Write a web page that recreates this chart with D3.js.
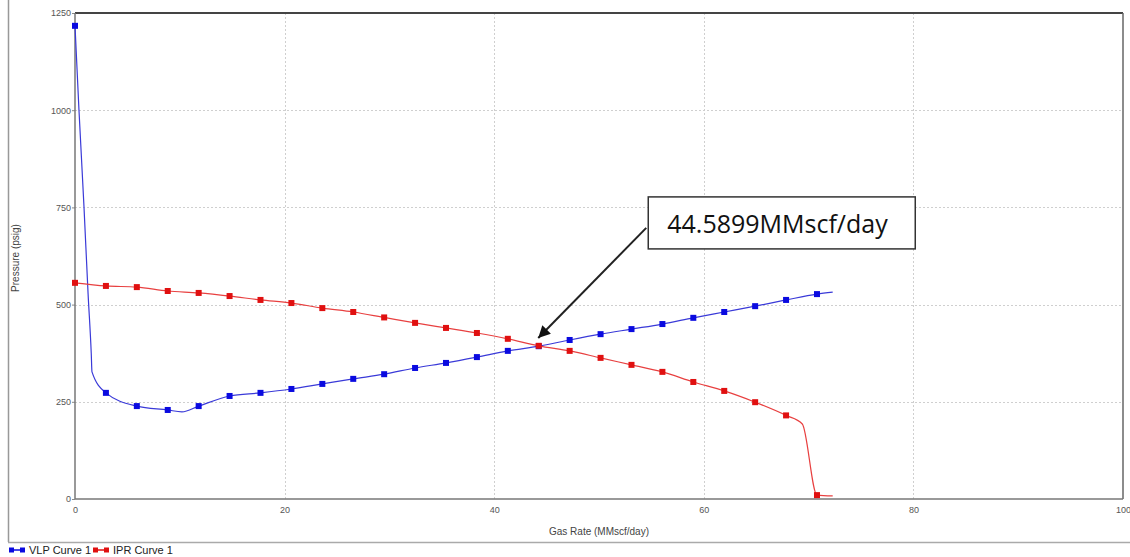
<!DOCTYPE html>
<meta charset="utf-8">
<script src="https://d3js.org/d3.v7.min.js"></script>
<style>
  body { margin: 0; background: #fff; }
  svg { font-family: 'Liberation Sans', Arial, sans-serif; }
  .tick text { fill: #555; font-size: 9px; }
  .grid line { stroke: #cfcfcf; stroke-dasharray: 2,2; }
</style>
<body>
<div id="chart"></div>
<script>

// marker points (every few samples)
var vlpRate     = [0, 2.95, 5.9, 8.85, 11.8, 14.75, 17.7, 20.65, 23.6, 26.55, 29.5, 32.45, 35.4, 38.35, 41.3, 44.25, 47.2, 50.15, 53.1, 56.05, 59.0, 61.95, 64.9, 67.85, 70.8];
var vlpPressure = [1217, 273, 239, 229, 239, 265, 273, 283, 296, 309, 321, 337, 350, 365, 381, 393, 409, 424, 437, 450, 466, 481, 496, 512, 527];
// extra line-only points
var vlpLineRate     = [0.38, 0.86, 1.25, 1.55, 1.62, 10.2, 72.3];
var vlpLinePressure = [1000, 750, 527, 375, 327, 224, 532];

var iprRate     = [0, 2.95, 5.9, 8.85, 11.8, 14.75, 17.7, 20.65, 23.6, 26.55, 29.5, 32.45, 35.4, 38.35, 41.3, 44.25, 47.2, 50.15, 53.1, 56.05, 59.0, 61.95, 64.9, 67.85, 70.8];
var iprPressure = [556, 548, 545, 535, 530, 522, 512, 504, 491, 481, 467, 453, 440, 427, 412, 394, 381, 363, 345, 327, 301, 278, 249, 215, 10];
var iprLineRate     = [69.4, 72.3];
var iprLinePressure = [193, 8];

var seriesNames = ["VLP Curve 1", "IPR Curve 1"];
var seriesColors = ["#0a0ae0", "#e01010"];
var lineColors = ["#3a3ad8", "#e84040"];

var xTicks = [0, 20, 40, 60, 80, 100];
var yTicks = [0, 250, 500, 750, 1000, 1250];

var opRate = 44.5899;
var opLabel = "44.5899MMscf/day";
var arrowTip = [44.2, 414];   // rate, pressure
var labelAt  = [54.7, 777];   // box top-left, rate, pressure

var W = 1130, H = 557;
var margin = {top: 13, right: 7, bottom: 58, left: 75},
    width = W - margin.left - margin.right,
    height = H - margin.top - margin.bottom;

var svg = d3.select("#chart").append("svg")
    .attr("width", W).attr("height", H);

// outer frame
svg.append("line").attr("x1", 8.5).attr("x2", 8.5).attr("y1", 0).attr("y2", 542)
  .attr("stroke", "#999").attr("stroke-width", 1.5);
svg.append("line").attr("x1", 8).attr("x2", W).attr("y1", 542.5).attr("y2", 542.5)
  .attr("stroke", "#aaa").attr("stroke-width", 1.5);

var g = svg.append("g")
    .attr("transform", "translate(" + margin.left + "," + margin.top + ")");

var x = d3.scaleLinear().domain([0, 100]).range([0, width]);
var y = d3.scaleLinear().domain([0, 1250]).range([height, 0]);

// grid
g.append("g").attr("class", "grid")
  .selectAll("line").data(xTicks.slice(1, -1)).enter().append("line")
    .attr("x1", function(d) { return Math.round(x(d)) + 0.5; })
    .attr("x2", function(d) { return Math.round(x(d)) + 0.5; })
    .attr("y1", 0).attr("y2", height);
g.append("g").attr("class", "grid")
  .selectAll("line").data(yTicks.slice(1, -1)).enter().append("line")
    .attr("y1", function(d) { return Math.round(y(d)) + 0.5; })
    .attr("y2", function(d) { return Math.round(y(d)) + 0.5; })
    .attr("x1", 0).attr("x2", width);

// axes
var xAxis = g.append("g")
  .attr("transform", "translate(0," + height + ")")
  .call(d3.axisBottom(x).tickValues(xTicks).tickFormat(d3.format("d")).tickSize(0).tickPadding(8));
var yAxis = g.append("g")
  .call(d3.axisLeft(y).tickValues(yTicks).tickFormat(d3.format("d")).tickSize(3).tickPadding(1));
xAxis.select(".domain").remove();
yAxis.select(".domain").remove();
yAxis.selectAll(".tick line").attr("stroke", "#888");

// plot frame
g.append("line").attr("x1", 0).attr("x2", width).attr("y1", 0).attr("y2", 0)
  .attr("stroke", "#444").attr("stroke-width", 2);
g.append("line").attr("x1", width).attr("x2", width).attr("y1", 0).attr("y2", height)
  .attr("stroke", "#666").attr("stroke-width", 1.5);
g.append("line").attr("x1", 0).attr("x2", width).attr("y1", height).attr("y2", height)
  .attr("stroke", "#777").attr("stroke-width", 1.5);
g.append("line").attr("x1", 0).attr("x2", 0).attr("y1", 0).attr("y2", height)
  .attr("stroke", "#777").attr("stroke-width", 1.5);

// axis titles
g.append("text")
  .attr("x", x(50)).attr("y", height + 36)
  .attr("text-anchor", "middle")
  .style("font-size", "10px").style("fill", "#444")
  .text("Gas Rate  (MMscf/day)");
svg.append("text")
  .attr("transform", "translate(19," + (margin.top + height / 2 + 2) + ") rotate(-90)")
  .attr("text-anchor", "middle")
  .style("font-size", "10px").style("fill", "#444")
  .text("Pressure  (psig)");

function zip(xs, ys) { return xs.map(function(v, i) { return [v, ys[i]]; }); }

var series = [
  {markers: zip(vlpRate, vlpPressure), extra: zip(vlpLineRate, vlpLinePressure)},
  {markers: zip(iprRate, iprPressure), extra: zip(iprLineRate, iprLinePressure)}
];

var line = d3.line()
  .x(function(d) { return x(d[0]); })
  .y(function(d) { return y(d[1]); })
  .curve(d3.curveMonotoneX);

series.forEach(function(s, i) {
  var pts = s.markers.concat(s.extra).sort(function(a, b) { return a[0] - b[0]; });
  g.append("path").datum(pts)
    .attr("fill", "none")
    .attr("stroke", lineColors[i])
    .attr("stroke-width", 1.2)
    .attr("d", line);
  g.selectAll(".m" + i).data(s.markers).enter().append("rect")
    .attr("class", "m" + i)
    .attr("x", function(d) { return x(d[0]) - 3; })
    .attr("y", function(d) { return y(d[1]) - 3; })
    .attr("width", 6).attr("height", 6)
    .attr("fill", seriesColors[i]);
});

// annotation
svg.append("defs").append("marker")
  .attr("id", "arr").attr("viewBox", "0 0 10 10")
  .attr("refX", 10).attr("refY", 5)
  .attr("markerWidth", 7).attr("markerHeight", 6)
  .attr("markerUnits", "strokeWidth")
  .attr("orient", "auto")
  .append("path").attr("d", "M0,0L10,5L0,10z").attr("fill", "#111");

var bx = x(labelAt[0]), by = y(labelAt[1]);
g.append("line")
  .attr("x1", bx - 2).attr("y1", by + 31)
  .attr("x2", x(arrowTip[0])).attr("y2", y(arrowTip[1]))
  .attr("stroke", "#222").attr("stroke-width", 2)
  .attr("marker-end", "url(#arr)");
g.append("rect")
  .attr("x", bx).attr("y", by)
  .attr("width", 267).attr("height", 52)
  .attr("fill", "#fff").attr("stroke", "#333").attr("stroke-width", 1.5);
g.append("text")
  .attr("x", bx + 19).attr("y", by + 36)
  .style("font-family", "'Open Sans', sans-serif")
  .style("font-size", "25px").style("fill", "#111")
  .text(opLabel);

// legend
var leg = svg.append("g").attr("transform", "translate(9,550)");
var lx = [0, 84];
seriesNames.forEach(function(name, i) {
  var lg = leg.append("g").attr("transform", "translate(" + lx[i] + ",0)");
  lg.append("line").attr("x1", 2).attr("x2", 13).attr("y1", 0).attr("y2", 0)
    .attr("stroke", seriesColors[i]).attr("stroke-width", 1.5);
  lg.selectAll("rect").data([0, 11]).enter().append("rect")
    .attr("x", function(d) { return d; }).attr("y", -2.5)
    .attr("width", 5).attr("height", 5).attr("fill", seriesColors[i]);
  lg.append("text").attr("x", 20).attr("y", 4)
    .style("font-size", "11px").style("fill", "#222")
    .text(name);
});

</script>
</body>
